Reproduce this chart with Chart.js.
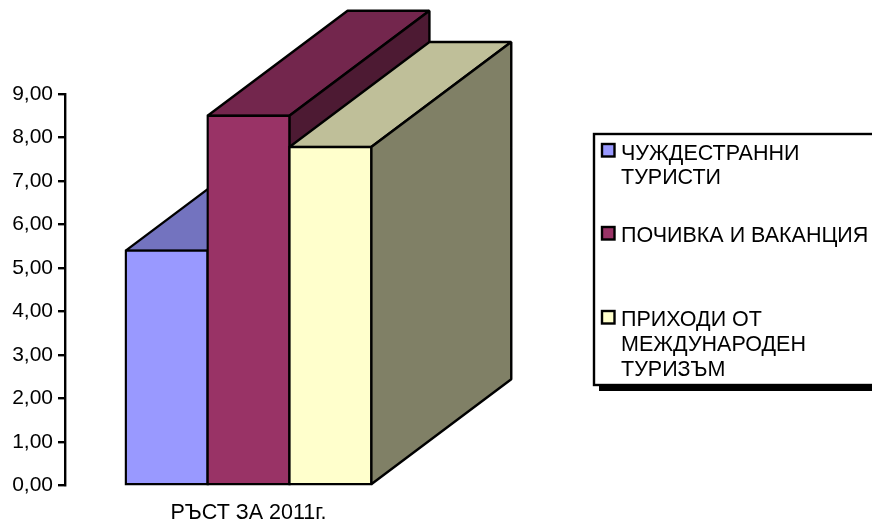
<!DOCTYPE html>
<html lang="bg">
<head>
  <meta charset="UTF-8">
  <title>РЪСТ ЗА 2011г.</title>
  <script src="https://cdn.jsdelivr.net/npm/chart.js"></script>
  <style>
    html, body { margin: 0; padding: 0; background: #fff; overflow: hidden; }
    canvas { display: block; }
  </style>
</head>
<body>
  <canvas id="chart" width="872" height="519"></canvas>
  <script>
    const categories = ['РЪСТ ЗА 2011г.'];
    const touristValues = [5.4];
    const vacationValues = [8.5];
    const incomeValues = [7.78];
    const seriesLines = [
      ['ЧУЖДЕСТРАННИ', 'ТУРИСТИ'],
      ['ПОЧИВКА И ВАКАНЦИЯ'],
      ['ПРИХОДИ ОТ', 'МЕЖДУНАРОДЕН', 'ТУРИЗЪМ']
    ];
    const frontColors = ['#9999FF', '#993366', '#FFFFCC'];
    const topColors = ['#7373BF', '#73264D', '#BFBF99'];
    const sideColors = ['#7373BF', '#4D1A33', '#808066'];

    const FONT = '21.5px "Liberation Sans", Arial, sans-serif';
    const LINE = 2.4;
    const DEPTH_X = 140;
    const DEPTH_Y = -105;

    const face = (ctx, points, fill) => {
      ctx.beginPath();
      points.forEach((p, i) => i ? ctx.lineTo(p[0], p[1]) : ctx.moveTo(p[0], p[1]));
      ctx.closePath();
      ctx.fillStyle = fill;
      ctx.fill();
      ctx.stroke();
    };

    // Chart.js paints the right-hand bar first, here we need left to right
    const depthBars = {
      id: 'depthBars',
      beforeDatasetsDraw(chart) {
        const ctx = chart.ctx;
        chart.data.datasets.forEach((ds, i) => {
          const meta = chart.getDatasetMeta(i);
          const bar = meta.data[0];
          const l = bar.x - bar.width / 2;
          const r = bar.x + bar.width / 2;
          const t = bar.y;
          const b = bar.base;
          ctx.save();
          ctx.strokeStyle = '#000';
          ctx.lineWidth = LINE;
          ctx.lineJoin = 'bevel';
          face(ctx, [[l, t], [r, t], [r + DEPTH_X, t + DEPTH_Y], [l + DEPTH_X, t + DEPTH_Y]], topColors[i]);
          face(ctx, [[r, t], [r + DEPTH_X, t + DEPTH_Y], [r + DEPTH_X, b + DEPTH_Y], [r, b]], sideColors[i]);
          ctx.restore();
          meta.controller.draw();
        });
        return false;
      }
    };

    const legendBox = {
      id: 'legendBox',
      afterDraw(chart) {
        const ctx = chart.ctx;
        const swatchY = [144, 227, 311];
        const baselines = [[159.5, 184], [241.7], [325.7, 350.7, 376]];
        ctx.save();
        ctx.fillStyle = '#000';
        ctx.fillRect(599, 385, 273, 6);
        ctx.fillStyle = '#fff';
        ctx.strokeStyle = '#000';
        ctx.lineWidth = LINE;
        ctx.fillRect(594, 134, 290, 251);
        ctx.strokeRect(594, 134, 290, 251);
        seriesLines.forEach((lines, i) => {
          ctx.fillStyle = frontColors[i];
          ctx.fillRect(602, swatchY[i], 12.5, 12.5);
          ctx.strokeRect(602, swatchY[i], 12.5, 12.5);
          ctx.fillStyle = '#000';
          ctx.font = FONT;
          ctx.textAlign = 'left';
          ctx.textBaseline = 'alphabetic';
          lines.forEach((line, j) => ctx.fillText(line, 621, baselines[i][j]));
        });
        ctx.restore();
      }
    };

    const makeSet = (i, values) => ({
      label: seriesLines[i].join(' '),
      data: values,
      backgroundColor: frontColors[i],
      borderColor: '#000',
      borderWidth: LINE,
      borderSkipped: false,
      inflateAmount: LINE / 2
    });

    new Chart(document.getElementById('chart'), {
      type: 'bar',
      data: {
        labels: categories,
        datasets: [
          makeSet(0, touristValues),
          makeSet(1, vacationValues),
          makeSet(2, incomeValues)
        ]
      },
      plugins: [depthBars, legendBox],
      options: {
        responsive: false,
        animation: false,
        datasets: { bar: { categoryPercentage: 0.669, barPercentage: 1 } },
        layout: { padding: { left: 0, right: 440, top: 94, bottom: 0 } },
        plugins: { legend: { display: false }, tooltip: { enabled: false } },
        scales: {
          x: {
            grid: { display: false },
            border: { display: false },
            ticks: { color: '#000', font: { family: '"Liberation Sans"', size: 21.5 }, padding: 7, maxRotation: 0 },
            afterFit: (s) => { s.height = 33.5; }
          },
          y: {
            min: 0,
            max: 9,
            border: { display: true, color: '#000', width: LINE },
            grid: { drawOnChartArea: false, color: '#000', lineWidth: LINE, tickLength: 7 },
            ticks: {
              stepSize: 1,
              color: '#000',
              font: { family: '"Liberation Sans"', size: 21 },
              padding: 5,
              callback: (v) => v.toFixed(2).replace('.', ',')
            },
            afterFit: (s) => { s.width = 65; }
          }
        }
      }
    });
  </script>
</body>
</html>
